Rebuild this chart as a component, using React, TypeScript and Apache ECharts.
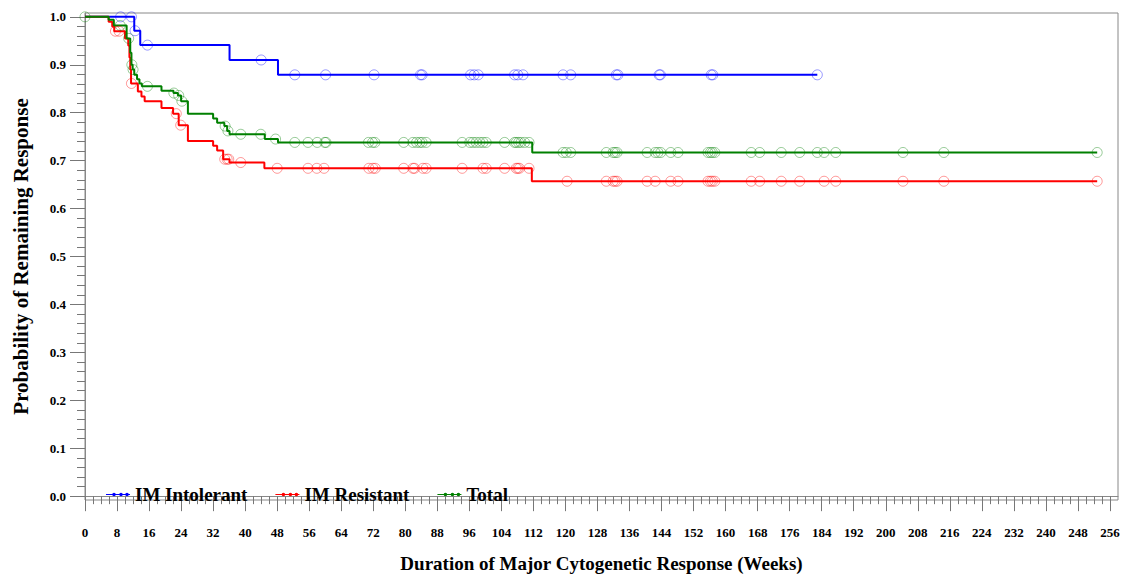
import React, { useEffect, useRef } from "react";
import * as echarts from "echarts";

// ---- axis tick labels ----
const X_TICKS = [0, 8, 16, 24, 32, 40, 48, 56, 64, 72, 80, 88, 96, 104, 112, 120, 128, 136, 144, 152, 160, 168, 176, 184, 192, 200, 208, 216, 224, 232, 240, 248, 256];
const Y_TICKS = [0, 0.1, 0.2, 0.3, 0.4, 0.5, 0.6, 0.7, 0.8, 0.9, 1.0];

// ---- IM Intolerant ----
const INTOL_WEEKS = [0, 12.3, 13.8, 36.1, 48.2, 182.9];
const INTOL_SURV = [1.0, 0.971, 0.941, 0.91, 0.879, 0.879];
const INTOL_CENSORED = [8.9, 11.6, 12.5, 15.6, 44.0, 52.4, 60.1, 72.2, 83.8, 84.2, 96.3, 97.2, 98.2, 107.3, 108.1, 109.4, 119.4, 121.3, 132.7, 133.1, 143.4, 143.7, 156.4, 156.8, 182.9];

// ---- IM Resistant ----
const RESIST_WEEKS = [0, 5.9, 6.8, 7.3, 10.0, 10.8, 11.1, 11.3, 11.5, 13.2, 14.1, 14.9, 19.1, 22.0, 23.4, 25.7, 32.0, 33.0, 34.5, 36.1, 44.8, 111.6, 252.8];
const RESIST_SURV = [1.0, 0.99, 0.98, 0.97, 0.955, 0.94, 0.915, 0.89, 0.861, 0.844, 0.834, 0.824, 0.81, 0.798, 0.774, 0.741, 0.731, 0.721, 0.703, 0.696, 0.684, 0.657, 0.657];
const RESIST_CENSORED = [7.6, 8.5, 11.6, 22.8, 23.9, 34.9, 35.5, 35.9, 38.9, 48.0, 55.7, 57.9, 59.7, 70.9, 71.9, 72.5, 79.6, 81.9, 82.3, 84.4, 85.2, 94.2, 99.4, 100.2, 104.8, 107.7, 108.1, 108.5, 110.9, 120.4, 130.2, 131.9, 132.4, 132.9, 140.4, 142.4, 146.3, 148.1, 155.6, 156.2, 156.7, 157.3, 166.4, 168.5, 173.9, 178.5, 184.6, 187.5, 204.3, 214.5, 252.8];

// ---- Total ----
const TOTAL_WEEKS = [0, 5.9, 7.2, 10.4, 11.3, 11.6, 11.9, 12.3, 13.0, 13.6, 14.2, 19.1, 22.1, 23.2, 24.0, 25.7, 32.0, 33.0, 34.8, 35.5, 36.1, 44.9, 48.2, 111.7, 252.8];
const TOTAL_SURV = [1.0, 0.994, 0.982, 0.955, 0.925, 0.9, 0.89, 0.879, 0.87, 0.861, 0.855, 0.846, 0.841, 0.836, 0.824, 0.798, 0.788, 0.779, 0.772, 0.762, 0.755, 0.745, 0.738, 0.717, 0.717];
const TOTAL_CENSORED = [0, 8.8, 10.9, 11.7, 12.0, 15.6, 22.2, 23.4, 24.2, 35.0, 35.7, 38.9, 43.9, 47.6, 52.4, 55.7, 58.0, 59.9, 60.2, 70.8, 71.8, 72.4, 79.6, 81.9, 82.8, 83.6, 84.2, 85.2, 94.2, 96.1, 96.9, 97.7, 98.6, 99.4, 100.2, 104.8, 107.3, 107.7, 108.3, 108.9, 109.8, 110.9, 119.4, 120.2, 121.3, 130.2, 131.9, 132.4, 132.9, 140.4, 142.4, 143.1, 143.8, 146.3, 148.1, 155.6, 156.2, 156.7, 157.3, 166.4, 168.5, 173.9, 178.5, 182.9, 184.6, 187.5, 204.3, 214.5, 252.8];

const SERIES_NAMES = ["IM Intolerant", "IM Resistant", "Total"];
const COLORS = ["#0000ff", "#ff0000", "#008000"];
const CENSOR_COLORS = ["rgba(0,0,255,0.5)", "rgba(255,0,0,0.5)", "rgba(0,128,0,0.5)"];

const FONT = "'Liberation Serif', 'DejaVu Serif', serif";

function stepValue(weeks: number[], surv: number[], t: number): number {
  let v = surv[0];
  for (let i = 0; i < weeks.length; i++) {
    if (weeks[i] <= t) v = surv[i];
  }
  return v;
}

export default function App() {
  const ref = useRef<HTMLDivElement>(null);

  useEffect(() => {
    if (!ref.current) return;
    const chart = echarts.init(ref.current, null, { renderer: "svg" });

    const groups = [
      [INTOL_WEEKS, INTOL_SURV, INTOL_CENSORED],
      [RESIST_WEEKS, RESIST_SURV, RESIST_CENSORED],
      [TOTAL_WEEKS, TOTAL_SURV, TOTAL_CENSORED],
    ];

    const xMinor: number[] = [];
    for (let v = 2; v < 258; v += 2) if (v % 8 !== 0) xMinor.push(v);
    const yMinor: number[] = [];
    for (let i = 1; i < 50; i++) if (i % 5 !== 0) yMinor.push(+(i * 0.02).toFixed(2));

    const X_MIN = 0, X_MAX = 258, Y_MIN = -0.008, Y_MAX = 1.008;
    const tickLine = { color: "#777", width: 1 };
    const labelStyle = { fontFamily: FONT, fontWeight: "bold" as const, fontSize: 13, color: "#000" };

    const lineSeries = groups.map((g, i) => ({
      name: SERIES_NAMES[i],
      type: "line",
      step: "end",
      showSymbol: false,
      symbol: "circle",
      data: (g[0] as number[]).map((w, k) => [w, (g[1] as number[])[k]]),
      lineStyle: { color: COLORS[i], width: 2 },
      itemStyle: { color: COLORS[i] },
      z: 3,
    }));

    const censorSeries = groups.map((g, i) => ({
      name: SERIES_NAMES[i] + " (censored)",
      type: "scatter",
      symbol: "circle",
      symbolSize: 10,
      data: (g[2] as number[]).map((w) => [w, stepValue(g[0] as number[], g[1] as number[], w)]),
      itemStyle: { color: "transparent", borderColor: CENSOR_COLORS[i], borderWidth: 1 },
      z: 4,
    }));

    const legendIcon =
      "path://M0,1.4 H24 V2.4 H0 Z M9.8,1.9 A1.8,1.8 0 1 1 6.2,1.9 A1.8,1.8 0 1 1 9.8,1.9 Z M16.8,1.9 A1.8,1.8 0 1 1 13.2,1.9 A1.8,1.8 0 1 1 16.8,1.9 Z M22.8,1.9 A1.8,1.8 0 1 1 19.2,1.9 A1.8,1.8 0 1 1 22.8,1.9 Z";

    chart.setOption({
      animation: false,
      backgroundColor: "#fff",
      grid: {
        left: 85,
        right: 10,
        top: 13,
        bottom: 73,
        show: true,
        borderColor: "#888",
        borderWidth: 1,
        backgroundColor: "transparent",
      },
      legend: {
        data: SERIES_NAMES,
        left: 101,
        top: 480,
        icon: legendIcon,
        itemWidth: 24,
        itemHeight: 3.6,
        itemGap: 28,
        textStyle: { fontFamily: FONT, fontWeight: "bold", fontSize: 19, color: "#000" },
      },
      xAxis: [
        {
          type: "value",
          position: "bottom",
          min: X_MIN,
          max: X_MAX,
          name: "Duration of Major Cytogenetic Response (Weeks)",
          nameLocation: "middle",
          nameGap: 54,
          nameTextStyle: { fontFamily: FONT, fontWeight: "bold", fontSize: 19, color: "#000" },
          axisLine: { show: true, lineStyle: { color: "#888", width: 1 } },
          axisTick: { show: true, customValues: X_TICKS, length: 15, lineStyle: tickLine },
          axisLabel: { customValues: X_TICKS, margin: 26, ...labelStyle },
          splitLine: { show: false },
        },
        {
          type: "value",
          position: "bottom",
          min: X_MIN,
          max: X_MAX,
          axisLine: { show: false },
          axisTick: { show: true, customValues: xMinor, length: 8, lineStyle: tickLine },
          axisLabel: { show: false },
          splitLine: { show: false },
        },
      ],
      yAxis: [
        {
          type: "value",
          position: "left",
          min: Y_MIN,
          max: Y_MAX,
          name: "Probability of Remaining Response",
          nameLocation: "middle",
          nameGap: 54,
          nameTextStyle: { fontFamily: FONT, fontWeight: "bold", fontSize: 21, color: "#000" },
          axisLine: { show: true, lineStyle: { color: "#888", width: 1 } },
          axisTick: { show: true, customValues: Y_TICKS, length: 15, lineStyle: tickLine },
          axisLabel: {
            customValues: Y_TICKS,
            margin: 19,
            formatter: (v: number) => v.toFixed(1),
            ...labelStyle,
          },
          splitLine: { show: false },
        },
        {
          type: "value",
          position: "left",
          min: Y_MIN,
          max: Y_MAX,
          axisLine: { show: false },
          axisTick: { show: true, customValues: yMinor, length: 8, lineStyle: tickLine },
          axisLabel: { show: false },
          splitLine: { show: false },
        },
      ],
      series: [...lineSeries, ...censorSeries],
    });

    return () => chart.dispose();
  }, []);

  return (
    <div
      ref={ref}
      style={{ position: "fixed", left: 0, top: 0, width: 1128, height: 578, background: "#fff" }}
    />
  );
}
